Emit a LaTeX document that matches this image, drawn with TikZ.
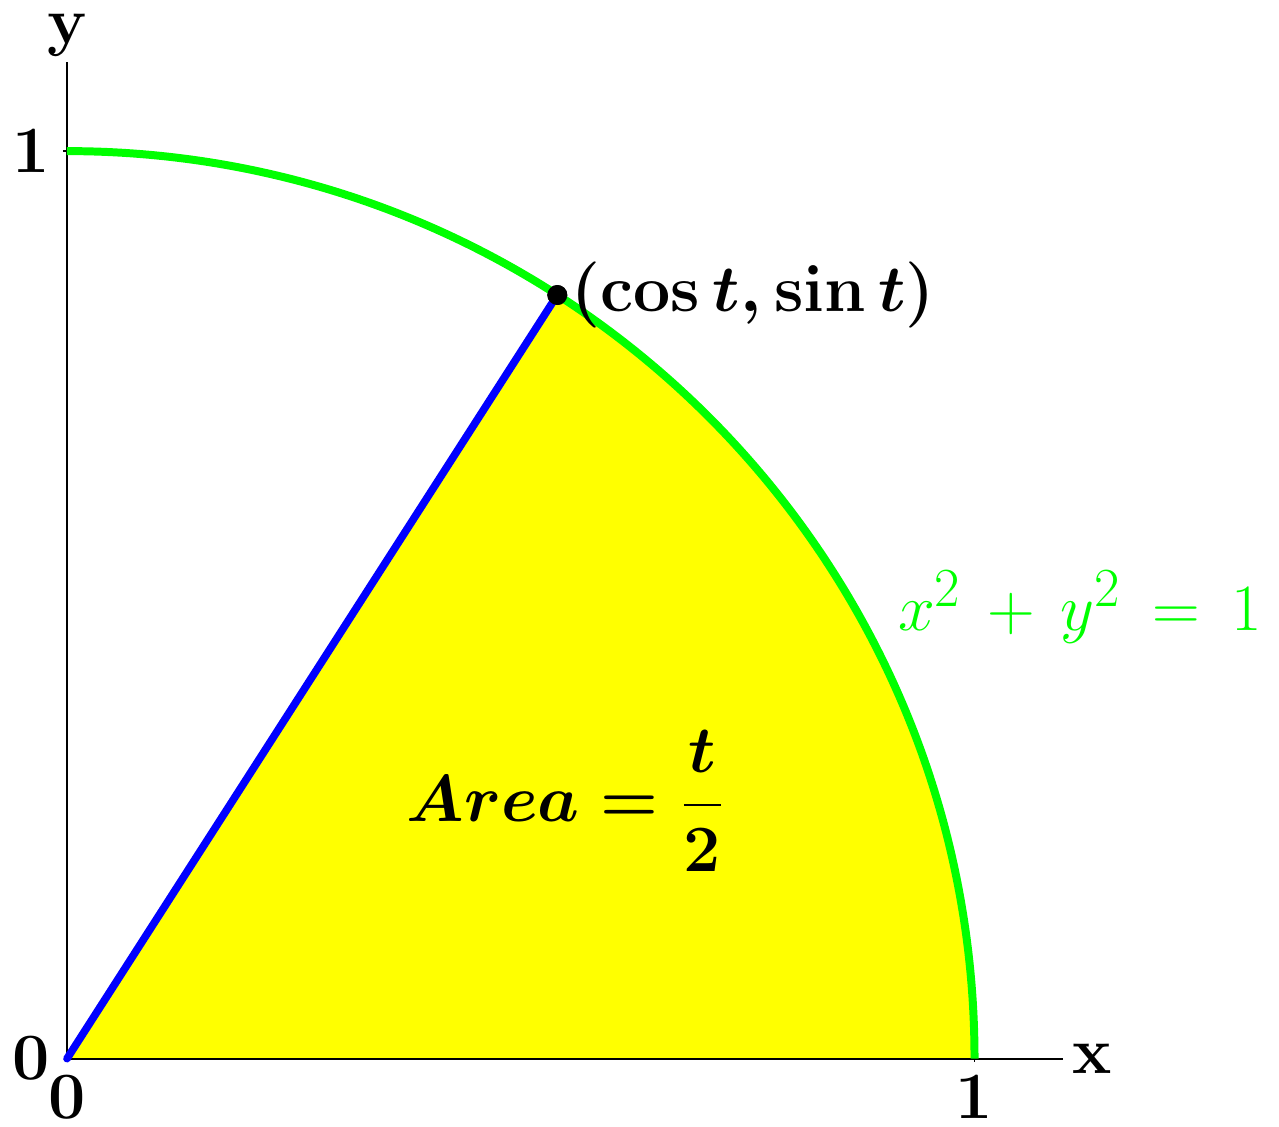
\documentclass[tikz,border=0pt]{standalone}
\usepackage{amsmath}
\definecolor{pureyellow}{RGB}{255,255,0}
\definecolor{puregreen}{RGB}{0,255,0}
\definecolor{pureblue}{RGB}{0,0,255}
\newcommand{\bigsq}{^{\text{\fontsize{17.28}{18}\selectfont 2}}}
\begin{document}
\begin{tikzpicture}[x=10cm,y=10cm,
  lbl/.style={font=\fontsize{20.74}{25}\selectfont\boldmath, inner sep=0pt},
  axis/.style={line width=0.6pt, black},
  curve/.style={line width=2.5pt, puregreen},
  radius line/.style={line width=2.4pt, pureblue}]
\useasboundingbox (-0.0738,-0.0749) rectangle (1.3355,1.1665);
\coordinate (O) at (0,0);
\coordinate (X1) at (1,0);
\coordinate (Y1) at (0,1);
\coordinate (Xend) at (1.097,0);
\coordinate (Yend) at (0,1.098);
% sector
\fill[pureyellow] (O) -- (X1) arc[start angle=0, end angle={deg(1)}, radius=1] -- cycle;
% axes
\draw[axis] (O) -- (Xend);
\draw[axis] (O) -- (Yend);
\draw[axis] (X1) -- ++(0,-0.004);
\draw[axis] (Y1) -- ++(-0.004,0);
% point
\node[circle, fill=black, inner sep=0pt, minimum size=0.22cm] (P) at ({cos(deg(1))},{sin(deg(1))}) {};
\draw[radius line, line cap=round] (O) -- (P.center);
\draw[curve] (X1) arc[start angle=0, end angle=90, radius=1];
\node[circle, fill=black, inner sep=0pt, minimum size=0.22cm] at (P.center) {};
% labels
\node[lbl] (ylab) at (0,1.127) {\textbf{y}};
\node[lbl] (xlab) at (1.13,0) {\textbf{x}};
\node[lbl] (y1) at (-0.040,1.0) {\textbf{1}};
\node[lbl] (y0) at (-0.040,0) {\textbf{0}};
\node[lbl] (x0) at (0,-0.042) {\textbf{0}};
\node[lbl] (x1) at (1,-0.042) {\textbf{1}};
\node[lbl, anchor=west] (plab) at ([xshift=0.15cm]P.center) {$(\cos t, \sin t)$};
\node[lbl] (area) at (0.5496,0.284) {$\displaystyle Area = \frac{t}{2}$};
\node[lbl, font=\fontsize{20.74}{25}\selectfont, text=puregreen, anchor=west] (eq) at (0.915,0.498)
  {\medmuskip=7mu \thickmuskip=8.5mu $x\bigsq+y\bigsq=1$};
\end{tikzpicture}
\end{document}
